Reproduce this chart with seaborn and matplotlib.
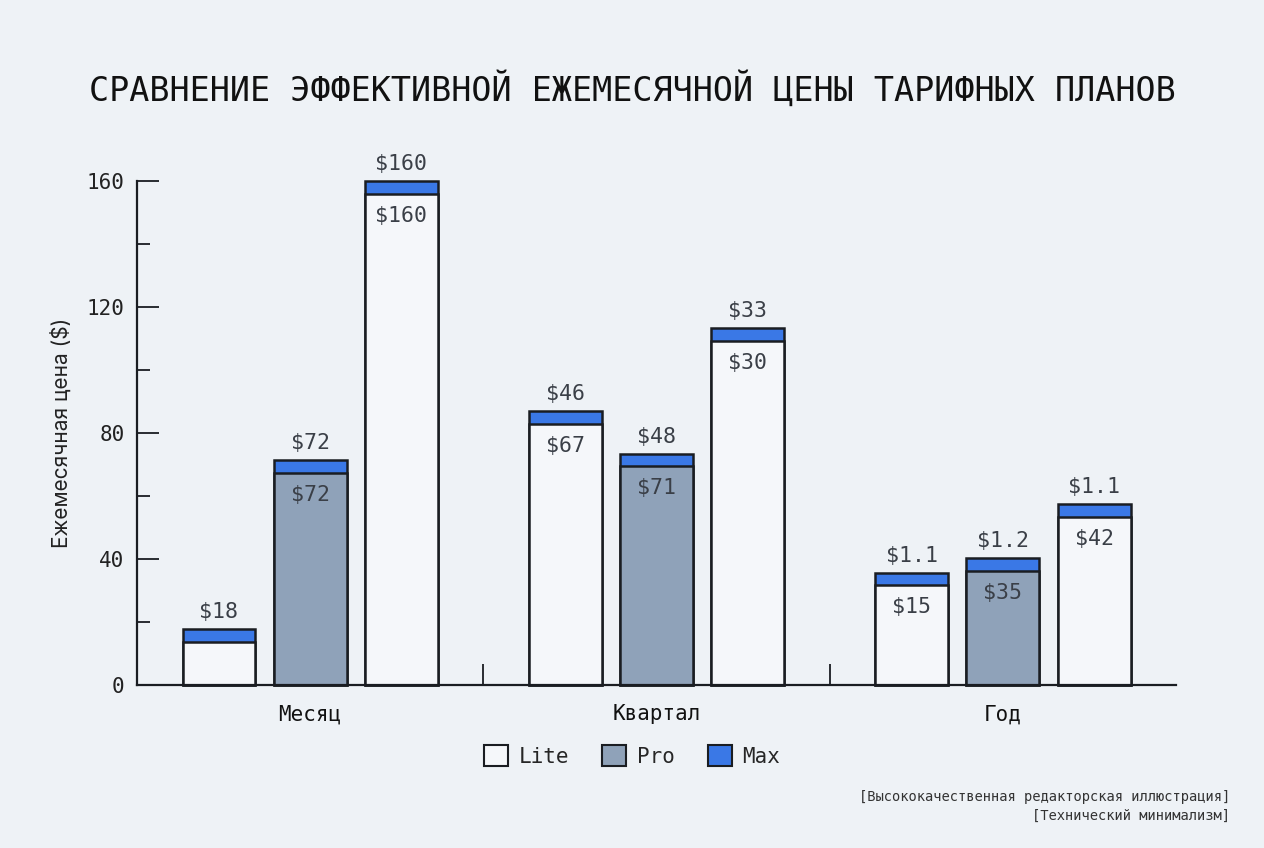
import numpy as np
import pandas as pd
import matplotlib
matplotlib.use("Agg")
import matplotlib.pyplot as plt
from matplotlib.patches import Patch
import seaborn as sns

# Chart data
periods = ["Месяц", "Квартал", "Год"]
plans = ["Lite", "Pro", "Max"]
# body height (without the blue cap) and cap height per bar
body_month = [13.8, 67.3, 156.0]
body_quarter = [83.0, 69.5, 109.3]
body_year = [31.6, 36.3, 53.4]
cap = 4.0
top_labels = {
    "Lite": ["$18", "$46", "$1.1"],
    "Pro": ["$72", "$48", "$1.2"],
    "Max": ["$160", "$33", "$1.1"],
}
inner_labels = {
    "Lite": ["", "$67", "$15"],
    "Pro": ["$72", "$71", "$35"],
    "Max": ["$160", "$30", "$42"],
}

BG = "#EEF2F6"
WHITE = "#F5F7FA"
GRAY = "#8FA2B9"
BLUE = "#3A78E6"
EDGE = "#1A1D22"
TXT = "#3A3F47"
MONO = "DejaVu Sans Mono"

rows = []
for per, bodies in zip(periods, [body_month, body_quarter, body_year]):
    for plan, b in zip(plans, bodies):
        rows.append({"period": per, "plan": plan, "body": b, "total": b + cap})
df = pd.DataFrame(rows)

sns.set_theme(style="ticks")
plt.rcParams["font.family"] = [MONO]
plt.rcParams["axes.facecolor"] = BG
plt.rcParams["figure.facecolor"] = BG

fig = plt.figure(figsize=(12.64, 8.48), dpi=100)
ax = fig.add_axes([0.1084, 0.1922, 0.8220, 0.5943])

# full bars (blue cap shows on top), then bodies drawn over
sns.barplot(data=df, x="period", y="total", hue="plan", order=periods, hue_order=plans,
            palette={p: BLUE for p in plans}, width=0.79, gap=0.2, saturation=1,
            edgecolor=EDGE, linewidth=1.8, ax=ax, legend=False, errorbar=None)
sns.barplot(data=df, x="period", y="body", hue="plan", order=periods, hue_order=plans,
            palette={"Lite": WHITE, "Pro": GRAY, "Max": WHITE}, width=0.79, gap=0.2,
            saturation=1, edgecolor=EDGE, linewidth=1.8, ax=ax, legend=False, errorbar=None)

for p in ax.patches:
    p.set_clip_on(False)

for i, plan in enumerate(plans):
    ax.bar_label(ax.containers[i], labels=top_labels[plan], padding=5,
                 fontsize=15.5, color=TXT, family=MONO)
    ax.bar_label(ax.containers[3 + i], labels=inner_labels[plan], padding=-23,
                 fontsize=15.5, color=TXT, family=MONO)

ax.set_xlim(-0.5, 2.5)
ax.set_ylim(0, 160)
ax.set_yticks([0, 40, 80, 120, 160])
ax.set_yticks([20, 60, 100, 140], minor=True)
ax.tick_params(axis="y", which="major", direction="in", length=16, width=1.3,
               color=EDGE, labelsize=15, pad=9, labelcolor="#222")
ax.tick_params(axis="y", which="minor", direction="in", length=9, width=1.3, color=EDGE)
ax.set_xticks([0, 1, 2])
ax.set_xticklabels(periods)
ax.set_xticks([0.5, 1.5], minor=True)
ax.tick_params(axis="x", which="major", length=0, labelsize=15, pad=14, labelcolor="#111")
ax.tick_params(axis="x", which="minor", direction="in", length=15, width=1.3, color=EDGE)

ax.set_xlabel("")
ax.set_ylabel("Ежемесячная цена ($)", family="Inter", fontsize=15, color="#222", labelpad=11)

for s in ["top", "right"]:
    ax.spines[s].set_visible(False)
for s in ["left", "bottom"]:
    ax.spines[s].set_linewidth(1.6)
    ax.spines[s].set_color(EDGE)

fig.text(0.5, 0.894, "СРАВНЕНИЕ ЭФФЕКТИВНОЙ ЕЖЕМЕСЯЧНОЙ ЦЕНЫ ТАРИФНЫХ ПЛАНОВ",
         ha="center", va="center", fontsize=24, color="#111", family=MONO)

handles = [Patch(facecolor=c, edgecolor=EDGE, linewidth=1.5) for c in [WHITE, GRAY, BLUE]]
fig.legend(handles, plans, loc="center", bbox_to_anchor=(0.5, 0.1085), ncol=3,
           frameon=False, fontsize=15, handlelength=1.15, handleheight=1.15,
           handletextpad=0.5, columnspacing=1.6)

fig.text(0.973, 0.049,
         "[Высококачественная редакторская иллюстрация]\n[Технический минимализм]",
         ha="right", va="center", fontsize=9.9, color="#333", family=MONO,
         linespacing=1.4, multialignment="right")

fig.savefig("out.png", dpi=100, facecolor=BG)
